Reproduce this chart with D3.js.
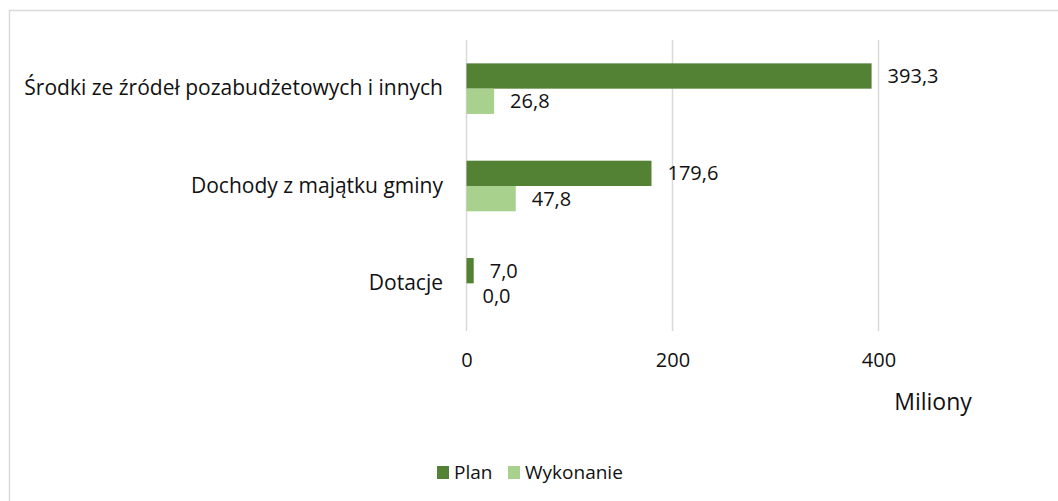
<!DOCTYPE html>
<html>
<head>
<meta charset="utf-8">
<script src="https://cdn.jsdelivr.net/npm/d3@7"></script>
<style>
  body { margin: 0; background: #fff; }
  svg { display: block; font-family: 'Open Sans', sans-serif; }
</style>
</head>
<body>
<svg id="chart"></svg>
<script>
// data
const categories = ['Środki ze źródeł pozabudżetowych i innych', 'Dochody z majątku gminy', 'Dotacje']
const series = ['Plan', 'Wykonanie']
const plan = [393.3, 179.6, 7.0]
const wykonanie = [26.8, 47.8, 0.0]
const xTicks = [0, 200, 400]
const colors = ['#548235', '#A9D18E']

const width = 1058
const height = 501

const svg = d3.select('#chart')
  .attr('width', width)
  .attr('height', height)

// outer chart border (only top + left fall inside the frame)
svg.append('rect')
  .attr('x', 9.5)
  .attr('y', 10.5)
  .attr('width', 1100)
  .attr('height', 600)
  .attr('fill', 'none')
  .attr('stroke', '#d9d9d9')
  .attr('stroke-width', 1.5)

const x = d3.scaleLinear()
  .domain([0, 400])
  .range([466.5, 878.5])

const y = d3.scaleBand()
  .domain(categories)
  .range([40, 332])
  .paddingInner(0.48)
  .paddingOuter(0.24)

const ySub = d3.scaleBand()
  .domain(series)
  .range([0, y.bandwidth()])

// gridlines
svg.append('g')
  .selectAll('line')
  .data(xTicks)
  .enter()
  .append('line')
  .attr('x1', d => x(d))
  .attr('x2', d => x(d))
  .attr('y1', 40)
  .attr('y2', 331)
  .attr('stroke', '#d9d9d9')
  .attr('stroke-width', 1.5)

// x axis tick labels
const xAxis = svg.append('g')
  .attr('transform', 'translate(0, 353)')
  .call(d3.axisBottom(x).tickValues(xTicks).tickSize(0).tickPadding(0).tickFormat(d3.format('d')))
xAxis.select('.domain').remove()
xAxis.selectAll('text')
  .attr('font-size', 20)
  .attr('font-family', "'Open Sans', sans-serif")
  .attr('fill', '#111')

// category labels
const yAxis = svg.append('g')
  .attr('transform', 'translate(443, 0)')
  .call(d3.axisLeft(y).tickSize(0).tickPadding(0))
yAxis.select('.domain').remove()
yAxis.selectAll('text')
  .attr('font-size', 21)
  .attr('font-family', "'Open Sans', sans-serif")
  .attr('fill', '#111')

// bars
const rows = categories.map((c, i) => ({ cat: c, values: [plan[i], wykonanie[i]] }))

const groups = svg.append('g')
  .selectAll('g')
  .data(rows)
  .enter()
  .append('g')
  .attr('transform', d => `translate(0, ${y(d.cat)})`)

groups.selectAll('rect')
  .data(d => d.values.map((v, j) => ({ key: series[j], value: v, j: j })))
  .enter()
  .append('rect')
  .attr('x', x(0))
  .attr('y', d => ySub(d.key))
  .attr('width', d => x(d.value) - x(0))
  .attr('height', ySub.bandwidth())
  .attr('fill', d => colors[d.j])

// value labels
groups.selectAll('text')
  .data(d => d.values.map((v, j) => ({ key: series[j], value: v, j: j })))
  .enter()
  .append('text')
  .attr('x', d => x(d.value) + 16)
  .attr('y', d => ySub(d.key) + ySub.bandwidth() / 2)
  .attr('dy', '0.35em')
  .attr('font-size', 20)
  .attr('fill', '#111')
  .text(d => d3.format('.1f')(d.value).replace('.', ','))

// units label
svg.append('text')
  .attr('x', 933)
  .attr('y', 410)
  .attr('text-anchor', 'middle')
  .attr('font-size', 23)
  .attr('fill', '#111')
  .text('Miliony')

// legend
const legend = svg.append('g')
  .attr('transform', 'translate(437, 472)')

const legendX = [0, 71]
series.forEach((s, i) => {
  legend.append('rect')
    .attr('x', legendX[i])
    .attr('y', -6)
    .attr('width', 12)
    .attr('height', 13)
    .attr('fill', colors[i])
  legend.append('text')
    .attr('x', legendX[i] + 17)
    .attr('y', 0)
    .attr('dy', '0.35em')
    .attr('font-size', 19)
    .attr('fill', '#111')
    .text(s)
})
</script>
</body>
</html>
